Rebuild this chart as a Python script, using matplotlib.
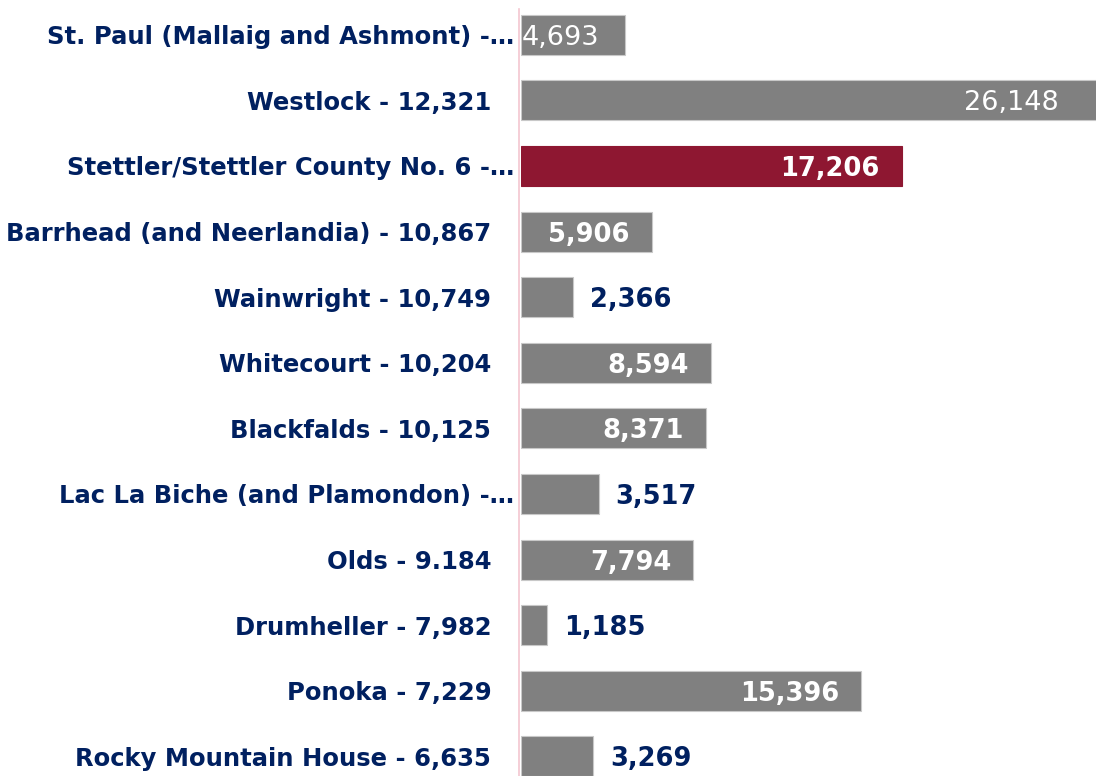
import matplotlib.pyplot as plt

labels = ["St. Paul (Mallaig and Ashmont) -…", "Westlock - 12,321", "Stettler/Stettler County No. 6 -…",
          "Barrhead (and Neerlandia) - 10,867", "Wainwright - 10,749", "Whitecourt - 10,204",
          "Blackfalds - 10,125", "Lac La Biche (and Plamondon) -…", "Olds - 9.184",
          "Drumheller - 7,982", "Ponoka - 7,229", "Rocky Mountain House - 6,635"]
values = [4693, 26148, 17206, 5906, 2366, 8594, 8371, 3517, 7794, 1185, 15396, 3269]
highlight = "Stettler/Stettler County No. 6 -…"
# where each value label sits
label_pos = ["start", "inside", "inside", "inside", "outside", "inside",
             "inside", "outside", "inside", "outside", "inside", "outside"]
label_bold = [False, False] + [True] * 10

navy = "#002060"
grey = "#808080"
red = "#8e1731"

fig = plt.figure(figsize=(10.96, 7.76), dpi=100)
ax = fig.add_axes([521 / 1096, 0, 575 / 1096, 1])

y = list(range(len(values)))
colors = [red if l == highlight else grey for l in labels]
edges = [red if l == highlight else "#c8c8c8" for l in labels]
ax.barh(y, values, height=0.61, color=colors, edgecolor=edges, linewidth=0.8)

ax.set_xlim(0, 26000)
ax.set_ylim(11.3, -0.53)

# spine first - set_position resets the ticks
for s in ["top", "right", "bottom"]:
    ax.spines[s].set_visible(False)
ax.spines["left"].set_color("#f4c6d0")
ax.spines["left"].set_linewidth(1.2)
ax.spines["left"].set_position(("outward", 1.5))
ax.spines["left"].set_bounds(-0.4, 11.3)

ax.set_xticks([])
ax.set_yticks(y)
ax.tick_params(axis="y", length=0, pad=20)
ax.set_yticklabels(labels, fontsize=17.5, fontweight="bold", color=navy)
for tick, lab in zip(ax.yaxis.get_major_ticks(), labels):
    if lab.endswith("…"):
        tick.set_pad(3.5)

for i, v in enumerate(values):
    txt = f"{v:,}"
    weight = "bold" if label_bold[i] else "normal"
    if label_pos[i] == "outside":
        ax.annotate(txt, (v, i), xytext=(12, 0), textcoords="offset points", ha="left",
                    va="center_baseline", color=navy, fontsize=18.5, fontweight="bold")
    elif label_pos[i] == "inside":
        off = -16 if label_bold[i] else -29
        ax.annotate(txt, (v, i), xytext=(off, 0), textcoords="offset points", ha="right",
                    va="center_baseline", color="white", fontsize=18.5 if label_bold[i] else 19.5,
                    fontweight=weight, annotation_clip=False)
    else:
        ax.annotate(txt, (0, i), xytext=(0.5, 0), textcoords="offset points", ha="left",
                    va="center_baseline", color="white", fontsize=19.5, fontweight=weight)

plt.savefig("out.png", dpi=100)
